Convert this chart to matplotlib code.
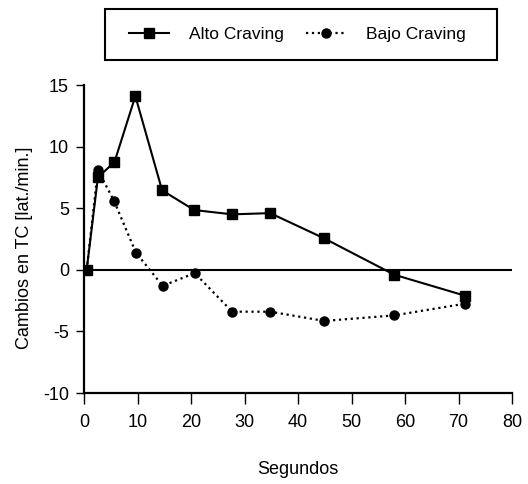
import matplotlib
matplotlib.use("Agg")
import matplotlib.pyplot as plt
from matplotlib.patches import Rectangle

plt.rcParams['font.family'] = ['Liberation Sans', 'DejaVu Sans']
plt.rcParams['axes.unicode_minus'] = False

x_alto = [0.5, 2.6, 5.7, 9.6, 14.6, 20.6, 27.7, 34.8, 44.9, 58.0, 71.2]
y_alto = [0.0, 7.5, 8.75, 14.1, 6.45, 4.85, 4.5, 4.6, 2.55, -0.4, -2.1]
x_bajo = [0.5, 2.6, 5.6, 9.7, 14.7, 20.7, 27.7, 34.8, 44.9, 58.0, 71.2]
y_bajo = [0.0, 8.1, 5.6, 1.4, -1.3, -0.27, -3.4, -3.4, -4.15, -3.7, -2.75]
xticks = [0, 10, 20, 30, 40, 50, 60, 70, 80]
yticks = [-10, -5, 0, 5, 10, 15]

W, H = 528, 484
fig = plt.figure(figsize=(W / 100, H / 100), dpi=100)
ax = fig.add_axes([84 / W, 1 - 393 / H, (512 - 84) / W, (393 - 85) / H])

ax.axhline(0, color='black', lw=1.5, zorder=1)
ax.plot(x_alto, y_alto, '-', color='black', lw=1.5, marker='s', ms=7,
        label='Alto Craving', zorder=3)
ax.plot(x_bajo, y_bajo, ':', color='black', lw=1.6, marker='o', ms=6.5,
        label='Bajo Craving', zorder=2)

ax.set_xlim(0, 80)
ax.set_ylim(-10, 15)
ax.set_xticks(xticks)
ax.set_yticks(yticks)
ax.spines['top'].set_visible(False)
ax.spines['right'].set_visible(False)
ax.spines['left'].set_linewidth(1.6)
ax.spines['bottom'].set_linewidth(1.6)
ax.tick_params(axis='both', direction='out', width=1.0,
               labelsize=13, colors='black')
ax.tick_params(axis='x', length=8, pad=7)
ax.tick_params(axis='y', length=5.8, pad=5)
ax.set_xlabel('Segundos', fontsize=13, labelpad=22)
ax.set_ylabel('Cambios en TC [lat./min.]', fontsize=13)
ax.yaxis.set_label_coords(-0.12, 0.47)

# legend (frame drawn separately to match the asymmetric padding)
leg = fig.legend(loc='center left', bbox_to_anchor=(120 / W, 1 - 34 / H), ncol=2,
                 fontsize=12.5, frameon=False,
                 handlelength=2.3, columnspacing=1.3, borderpad=0.0,
                 handletextpad=1.15)
fig.patches.append(Rectangle((105 / W, 1 - 60 / H), (497 - 105) / W, (60 - 9) / H,
                             transform=fig.transFigure, fill=False,
                             edgecolor='black', linewidth=1.5))

fig.savefig('out.png', dpi=100)
